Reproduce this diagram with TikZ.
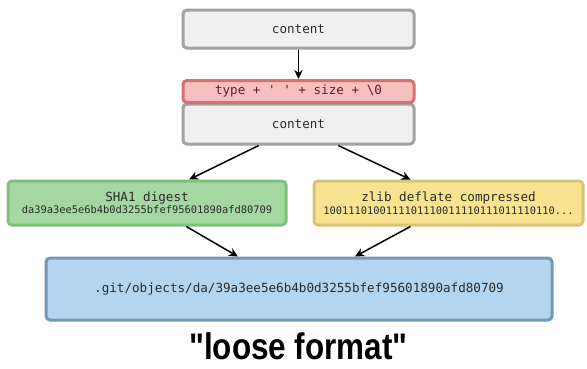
\documentclass[tikz,border=0pt]{standalone}
\usepackage{fontspec}
\setmonofont{DejaVu Sans Mono}
\newfontfamily\capfont{Liberation Sans}
\usetikzlibrary{arrows.meta,calc}
\definecolor{boxgray}{HTML}{F0F0F0}
\definecolor{edgegray}{HTML}{A2A2A2}
\definecolor{hdrfill}{HTML}{F6C0C0}
\definecolor{hdredge}{HTML}{D7716F}
\definecolor{hdrtext}{HTML}{6E1C1C}
\definecolor{shafill}{HTML}{A4D7A1}
\definecolor{shaedge}{HTML}{80C07E}
\definecolor{zfill}{HTML}{F8E390}
\definecolor{zedge}{HTML}{D8C479}
\definecolor{pfill}{HTML}{B3D5F0}
\definecolor{pedge}{HTML}{7897B8}
\definecolor{txt}{HTML}{2B2B2B}
\tikzset{
  box/.style={draw, line width=3pt, rounded corners=4pt, inner sep=0pt,
    align=center, text=txt, font=\ttfamily\fontsize{12.6}{14}\selectfont},
  graybox/.style={box, fill=boxgray, draw=edgegray},
  twoline/.style={font=\ttfamily\fontsize{10.4}{12.5}\selectfont},
  link/.style={line width=1.5pt, -{Stealth[length=9pt,width=8.5pt]}, black}
}
\begin{document}
\begin{tikzpicture}[x=1pt,y=-1pt]
\useasboundingbox[fill=white] (0,0) rectangle (587,368);

% raw content
\node[graybox, minimum width=231pt, minimum height=38pt] (c1) at (298.5,29) {content};

% header followed by the content
\node[graybox, minimum width=231pt, minimum height=40pt] (c2) at (298.5,124) {content};
\node[box, fill=hdrfill, draw=hdredge, text=hdrtext, minimum width=231pt, minimum height=22pt] (hdr) at (298.5,91.5) {type + ' ' + size + \textbackslash 0};

% hash and compressed data
\node[box, twoline, fill=shafill, draw=shaedge, minimum width=278pt, minimum height=44pt] (sha) at (147,203)
  {{\fontsize{12.6}{13}\selectfont SHA1 digest}\\da39a3ee5e6b4b0d3255bfef95601890afd80709};
\node[box, twoline, fill=zfill, draw=zedge, minimum width=269pt, minimum height=44pt] (zlib) at (448.5,203)
  {{\fontsize{12.6}{13}\selectfont zlib deflate compressed}\\1001110100111101110011110111011110110...};

% object path
\node[box, fill=pfill, draw=pedge, minimum width=506pt, minimum height=62pt] (path) at (299,289)
  {.git/objects/da/39a3ee5e6b4b0d3255bfef95601890afd80709};

% caption
\node[font=\capfont\bfseries\fontsize{37}{40}\selectfont, text=black, xscale=0.85] (cap) at (298.5,346) {"loose format"};

% connectors
\draw[link] (c1.south) -- (hdr.north);
\draw[link] ($(c2.south west)!0.33!(c2.south east)$) -- ($(sha.north west)!0.65!(sha.north east)$);
\draw[link] ($(c2.south west)!0.67!(c2.south east)$) -- ($(zlib.north west)!0.36!(zlib.north east)$);
\draw[link] ($(sha.south west)!0.64!(sha.south east)$) -- ($(path.north west)!0.38!(path.north east)$);
\draw[link] ($(zlib.south west)!0.36!(zlib.south east)$) -- ($(path.north west)!0.61!(path.north east)$);
\end{tikzpicture}
\end{document}
